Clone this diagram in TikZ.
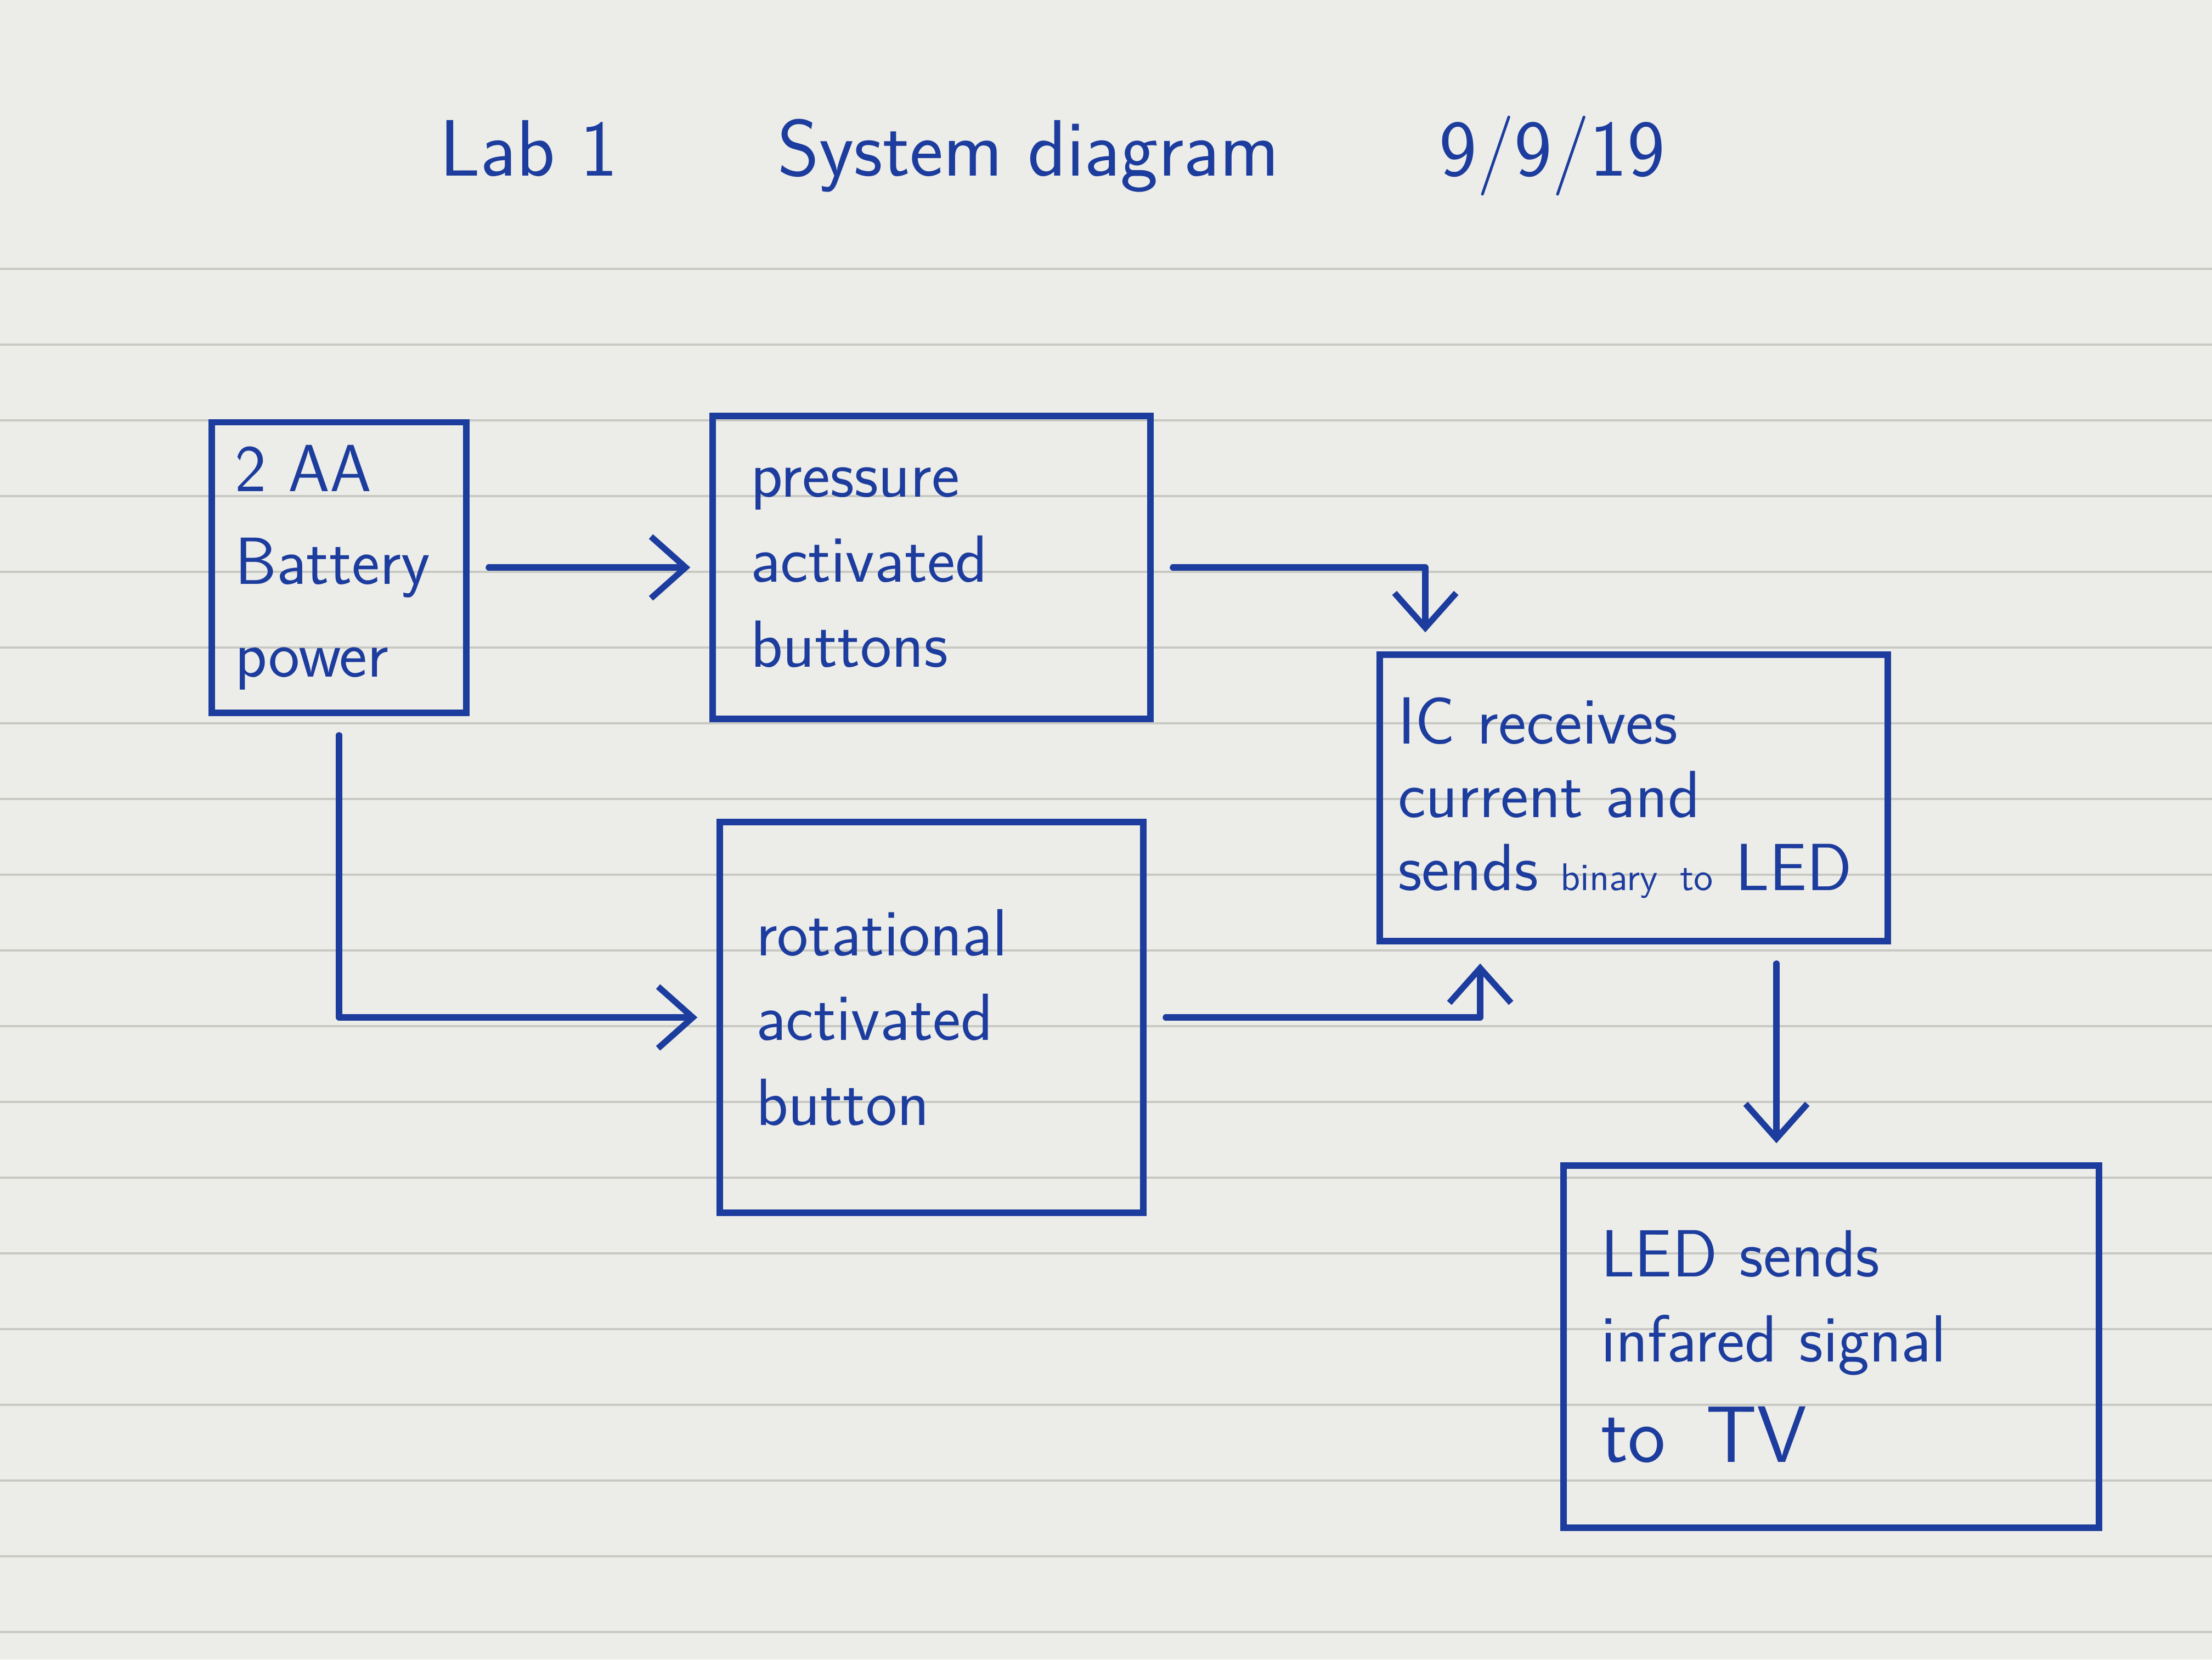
\documentclass[tikz,border=0pt]{standalone}
\usepackage{tikz}
\usetikzlibrary{arrows.meta, positioning, backgrounds}

\definecolor{ink}{HTML}{1C3C9E}
\definecolor{paper}{HTML}{ECECE8}
\definecolor{ruling}{HTML}{C9C9C4}

\begin{document}
\begin{tikzpicture}[>={Straight Barb[length=9pt,width=16pt]}, shorten >=5pt, shorten <=5pt,
    node distance=5cm, on grid, auto, font=\sffamily\LARGE, line width=1.6pt,
    sysblock/.style={draw=ink, text=ink, rectangle, align=left, inner xsep=0.3cm, inner ysep=6pt},
    wire/.style={->, draw=ink, line cap=round, line join=round}]
        % page and ruling
        \fill[paper] (0,0) rectangle (20.16,-15.12);
        \useasboundingbox (0,0) rectangle (20.16,-15.12);
        \foreach \k in {0,...,18}
            \draw[ruling, line width=0.6pt, shorten <=0pt, shorten >=0pt] (0,-2.45-0.69*\k) -- (20.16,-2.45-0.69*\k);

        \node[sysblock, minimum width=2.32cm, text width=1.9cm, minimum height=2.51cm, inner xsep=0.2cm] (bat) at (3.09,-5.17) {2 AA\\[2pt]Battery\\[2pt]power};
        \node[sysblock, minimum width=3.99cm, text width=3.3cm, minimum height=2.76cm] (press) [right=5.4cm of bat] {pressure\\activated\\buttons};
        \node[sysblock, minimum width=3.86cm, text width=3.2cm, minimum height=3.56cm] (rot) [below=4.1cm of press] {rotational\\activated\\button\\[1cm]};
        \node[sysblock, minimum width=4.63cm, text width=4.3cm, minimum height=2.61cm, inner xsep=0.15cm, inner ysep=3pt] (ic) [below right=2.1cm and 6.4cm of press] {IC receives\\[-3pt]current and\\[-3pt]sends {\normalsize binary to} LED};
        \node[sysblock, minimum width=4.88cm, text width=4.2cm, minimum height=3.3cm] (led) [below right=5cm and 1.8cm of ic] {LED sends\\infared signal\\[4pt]{\huge to\enspace TV}};
        \node[text=ink, font=\sffamily\huge] (title) [above=3.75cm of press, xshift=1.1cm] {Lab 1\qquad System diagram\qquad 9/9/19};

        \path[wire]
        (bat) edge (press)
        ;
        \draw[wire] (bat.south) |- (rot.west);
        \draw[wire] (press.east) -| ([xshift=-1.9cm]ic.north);
        \draw[wire] (rot.east) -| ([xshift=-1.4cm]ic.south);
        \draw[wire] ([xshift=1.3cm]ic.south) -- ([xshift=1.3cm]ic.south |- led.north);
    \end{tikzpicture}
\end{document}
